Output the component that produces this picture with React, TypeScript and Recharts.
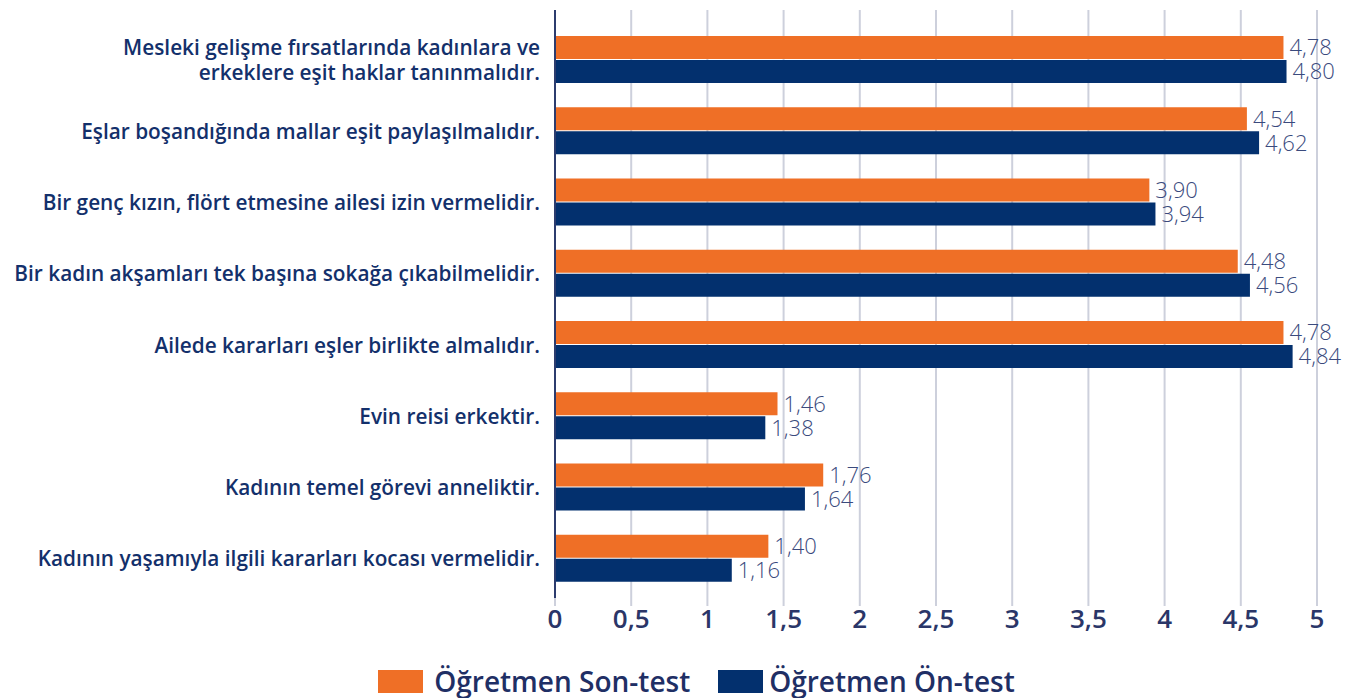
import React from 'react';
import { BarChart, Bar, XAxis, YAxis, CartesianGrid, Legend, LabelList } from 'recharts';

const categories = [
  'Mesleki gelişme fırsatlarında kadınlara ve\nerkeklere eşit haklar tanınmalıdır.',
  'Eşlar boşandığında mallar eşit paylaşılmalıdır.',
  'Bir genç kızın, flört etmesine ailesi izin vermelidir.',
  'Bir kadın akşamları tek başına sokağa çıkabilmelidir.',
  'Ailede kararları eşler birlikte almalıdır.',
  'Evin reisi erkektir.',
  'Kadının temel görevi anneliktir.',
  'Kadının yaşamıyla ilgili kararları kocası vermelidir.',
];
const sonTest = [4.78, 4.54, 3.9, 4.48, 4.78, 1.46, 1.76, 1.4];
const onTest = [4.8, 4.62, 3.94, 4.56, 4.84, 1.38, 1.64, 1.16];
const xTicks = [0, 0.5, 1, 1.5, 2, 2.5, 3, 3.5, 4, 4.5, 5];
const seriesNames = ['Öğretmen Son-test', 'Öğretmen Ön-test'];

const data = categories.map((c, i) => ({ name: c, son: sonTest[i], on: onTest[i] }));

const ORANGE = '#EF6F26';
const NAVY = '#03306E';
const TEXT = '#13306B';
const FONT = '"Open Sans", Roboto, sans-serif';

const fmt = (v: any) => String(v).replace('.', ',');
const fmt2 = (v: any) => Number(v).toFixed(2).replace('.', ',');

const YTick = (props: any) => {
  const { x, y, payload } = props;
  const lines = String(payload.value).split('\n');
  const lh = 25;
  const start = -((lines.length - 1) * lh) / 2;
  return (
    <text x={x} y={y} textAnchor="end" fill={TEXT} fontSize={20.8} fontWeight={600} fontFamily={FONT} dominantBaseline="central">
      {lines.map((l, i) => (
        <tspan key={i} x={x} dy={i === 0 ? start : lh}>{l}</tspan>
      ))}
    </text>
  );
};

const LegendContent = (props: any) => {
  const { payload } = props;
  return (
    <div style={{ display: 'flex', justifyContent: 'center', alignItems: 'center', height: 40, paddingLeft: 76, paddingTop: 6, boxSizing: 'border-box' }}>
      {(payload || []).map((p: any, i: number) => (
        <div key={i} style={{ display: 'flex', alignItems: 'center', marginRight: i === 0 ? 28 : 0 }}>
          <div style={{ width: 45, height: 23, background: p.color, marginRight: i === 0 ? 11 : 6 }} />
          <span style={{ fontFamily: FONT, fontSize: 28, fontWeight: 600, color: '#1F2F65', lineHeight: '30px' }}>{p.value}</span>
        </div>
      ))}
    </div>
  );
};

export default function App() {
  return (
    <div style={{ position: 'absolute', left: 0, top: 0, background: '#fff' }}>
      <BarChart
        width={1350}
        height={698}
        data={data}
        layout="vertical"
        margin={{ top: 10, right: 33, bottom: 0, left: 0 }}
        barSize={23}
        barGap={1}
      >
        <CartesianGrid horizontal={false} stroke="#CDD0DC" strokeWidth={2} />
        <XAxis
          type="number"
          domain={[0, 5]}
          ticks={xTicks}
          interval={0}
          tickFormatter={fmt}
          axisLine={false}
          tickLine={{ stroke: '#CDD0DC', strokeWidth: 2 }}
          tickSize={8}
          tickMargin={4}
          height={60}
          tick={{ fill: '#2A3668', fontSize: 26, fontWeight: 600, fontFamily: FONT }}
        />
        <YAxis
          type="category"
          dataKey="name"
          width={555}
          axisLine={{ stroke: '#2C3C6E', strokeWidth: 2 }}
          tickLine={false}
          tickSize={0}
          tickMargin={15}
          interval={0}
          tick={<YTick />}
          padding={{ top: 14, bottom: 4 }}
        />
        <Legend verticalAlign="bottom" content={<LegendContent />} />
        <Bar dataKey="son" name={seriesNames[0]} fill={ORANGE} isAnimationActive={false}>
          <LabelList dataKey="son" position="right" offset={6} formatter={fmt2} fill="#3A4A7D" fontSize={22} fontWeight={300} fontFamily={FONT} />
        </Bar>
        <Bar dataKey="on" name={seriesNames[1]} fill={NAVY} isAnimationActive={false}>
          <LabelList dataKey="on" position="right" offset={6} formatter={fmt2} fill="#3A4A7D" fontSize={22} fontWeight={300} fontFamily={FONT} />
        </Bar>
      </BarChart>
    </div>
  );
}
